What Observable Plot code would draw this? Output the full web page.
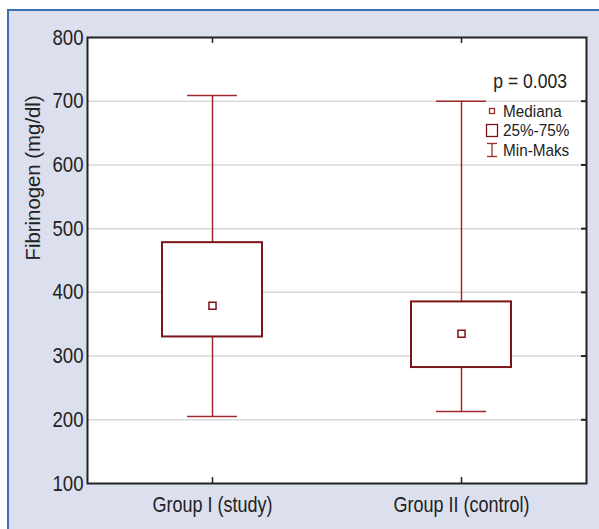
<!DOCTYPE html>
<html>
<head>
<meta charset="utf-8">
<script src="https://cdn.jsdelivr.net/npm/d3@7"></script>
<script src="https://cdn.jsdelivr.net/npm/@observablehq/plot@0.6"></script>
<style>
  html, body { margin: 0; padding: 0; background: white; }
  #wrap { position: relative; width: 599px; height: 529px; overflow: hidden; }
  #panel { position: absolute; left: 7px; top: 9px; width: 592px; height: 520px;
           background: #dce0ee; border-top: 2px solid #3d70b5; border-left: 2px solid #3d70b5; box-sizing: border-box; }
  #chart { position: absolute; left: 0; top: 0; }
</style>
</head>
<body>
<div id="wrap"><div id="panel"></div><div id="chart"></div></div>
<script>
const groups = ["Group I (study)", "Group II (control)"];
const minVals = [205, 213];
const q1Vals = [330, 282];
const medianVals = [379, 335];
const q3Vals = [478, 385];
const maxVals = [709, 700];
const yTicks = [100, 200, 300, 400, 500, 600, 700, 800];
const innerTicks = [200, 300, 400, 500, 600, 700];
const pText = "p = 0.003";
const legendLabels = ["Mediana", "25%-75%", "Min-Maks"];
const yLabel = "Fibrinogen (mg/dl)";

const data = groups.map((g, i) => ({
  group: g, min: minVals[i], q1: q1Vals[i], median: medianVals[i], q3: q3Vals[i], max: maxVals[i]
}));

const W = 599, H = 529, mL = 87, mR = 13, mT = 37, mB = 46;
const fw = W - mL - mR, fh = H - mT - mB;
const boxColor = "#7b1519", whiskColor = "#a0292d", ink = "#222";
const font = "'Liberation Sans', Arial, sans-serif";

function legend(index, scales, values, dim) {
  const g = d3.create("svg:g").attr("font-family", font).attr("fill", ink);
  const right = dim.width - dim.marginRight;
  const top = dim.marginTop;
  g.append("text").attr("transform", `translate(${right - 19},${top + 44}) scale(0.9,1)`)
    .attr("text-anchor", "end").attr("dy", "0.35em").attr("font-size", 19.5).text(pText);
  const sx = right - 94, tx = right - 83;
  const rows = [top + 74, top + 93.5, top + 113];
  g.append("rect").attr("x", sx - 2.5).attr("y", rows[0] - 2.5).attr("width", 5).attr("height", 5)
    .attr("fill", "white").attr("stroke", whiskColor).attr("stroke-width", 1.3);
  g.append("rect").attr("x", sx - 5.5).attr("y", rows[1] - 6).attr("width", 11).attr("height", 12)
    .attr("fill", "white").attr("stroke", boxColor).attr("stroke-width", 1.3);
  const w = g.append("g").attr("stroke", whiskColor).attr("stroke-width", 1.3);
  w.append("line").attr("x1", sx - 5).attr("x2", sx + 5).attr("y1", rows[2] - 6.5).attr("y2", rows[2] - 6.5);
  w.append("line").attr("x1", sx - 5).attr("x2", sx + 5).attr("y1", rows[2] + 6.5).attr("y2", rows[2] + 6.5);
  w.append("line").attr("x1", sx).attr("x2", sx).attr("y1", rows[2] - 6.5).attr("y2", rows[2] + 6.5);
  legendLabels.forEach((t, i) => {
    g.append("text").attr("transform", `translate(${tx},${rows[i]}) scale(0.9,1)`)
      .attr("text-anchor", "start").attr("dy", "0.35em").attr("font-size", 17).text(t);
  });
  return g.node();
}

const chart = Plot.plot({
  width: W, height: H,
  marginLeft: mL, marginRight: mR, marginTop: mT, marginBottom: mB,
  style: { background: "transparent", fontFamily: font, color: ink, overflow: "visible" },
  x: { type: "band", domain: groups, paddingInner: 0.6, paddingOuter: 0.3, label: null, axis: null },
  y: { domain: [100, 800], label: null, axis: null },
  marks: [
    Plot.frame({ fill: "white", stroke: null }),
    Plot.gridY(innerTicks, { stroke: "#d9d9d9", strokeOpacity: 1, strokeWidth: 1.5 }),
    Plot.ruleY(innerTicks, { insetLeft: fw - 5, stroke: ink, strokeWidth: 2 }),
    Plot.ruleX(groups, { x: d => d, insetTop: fh - 6, stroke: ink, strokeWidth: 1.5 }),
    Plot.ruleX(groups, { x: d => d, insetBottom: fh - 6, stroke: ink, strokeWidth: 1.5 }),
    Plot.ruleX(data, { x: "group", y1: "min", y2: "q1", stroke: whiskColor, strokeWidth: 1.5 }),
    Plot.ruleX(data, { x: "group", y1: "q3", y2: "max", stroke: whiskColor, strokeWidth: 1.5 }),
    Plot.tickY(data, { x: "group", y: "min", insetLeft: 25, insetRight: 25, stroke: whiskColor, strokeWidth: 1.5 }),
    Plot.tickY(data, { x: "group", y: "max", insetLeft: 25, insetRight: 25, stroke: whiskColor, strokeWidth: 1.5 }),
    Plot.barY(data, { x: "group", y1: "q1", y2: "q3", fill: "white", stroke: boxColor, strokeWidth: 2 }),
    Plot.dot(data, { x: "group", y: "median", symbol: "square", r: 4, fill: "white", stroke: boxColor, strokeWidth: 1.5 }),
    Plot.frame({ stroke: ink, strokeWidth: 2 }),
    Plot.axisY(yTicks, { tickSize: 0, tickPadding: 4, fontSize: 22, label: null, fill: ink }),
    Plot.axisX({ tickSize: 0, tickPadding: 13, fontSize: 22.5, label: null, fill: ink }),
    Plot.text([yLabel], { text: d => d, frameAnchor: "left", rotate: -90, dx: -54, fontSize: 21, fill: ink }),
    legend
  ]
});

function condenseText(t, s) {
  let tr = t.getAttribute("transform") || "";
  const x = t.getAttribute("x"), y = t.getAttribute("y");
  const yNum = y != null && !/em$/.test(y);
  if (x != null || yNum) {
    tr += ` translate(${x || 0},${yNum ? y : 0})`;
    t.removeAttribute("x");
    if (yNum) t.removeAttribute("y");
  }
  t.setAttribute("transform", tr + ` scale(${s},1)`);
}
chart.querySelectorAll("text").forEach(t => {
  const s = t.textContent;
  if (yTicks.map(String).includes(s)) condenseText(t, 0.845);
  else if (groups.includes(s)) condenseText(t, 0.8);
  else if (s === yLabel) condenseText(t, 0.97);
});
document.getElementById("chart").appendChild(chart);
</script>
</body>
</html>
